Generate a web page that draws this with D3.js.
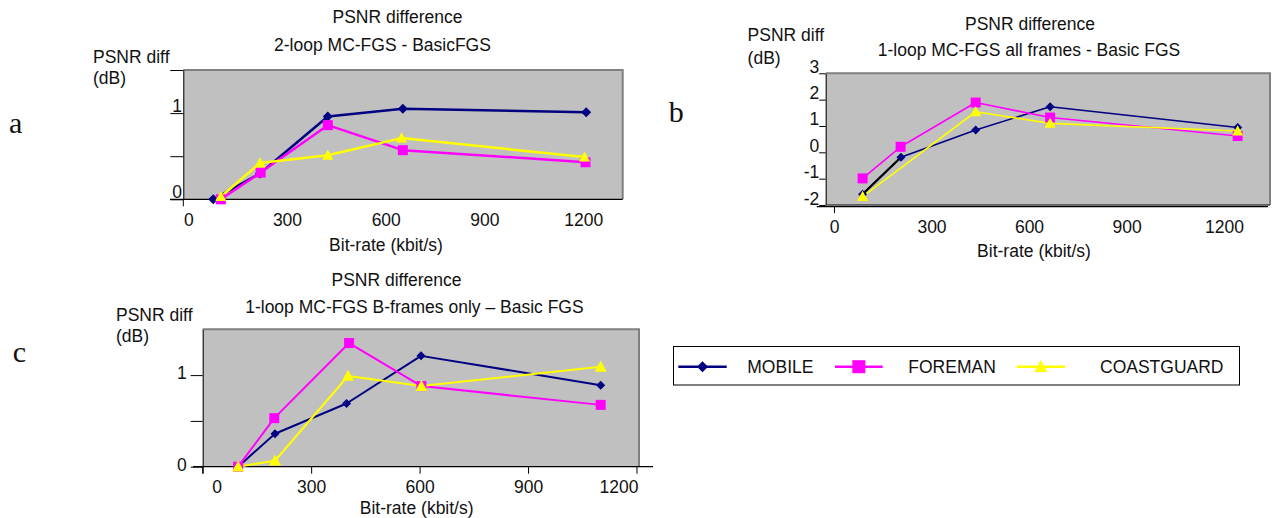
<!DOCTYPE html>
<html>
<head>
<meta charset="utf-8">
<script src="https://cdn.jsdelivr.net/npm/d3@7"></script>
<style>
  body { margin: 0; background: #fff; }
  svg { display: block; font-family: "Liberation Sans", Arial, sans-serif; }
  .txt { font-size: 17.5px; fill: #111; }
  .tick text { font-size: 17.5px; fill: #111; font-family: "Liberation Sans", Arial, sans-serif; }
  .letter { font-family: "Liberation Serif", "Times New Roman", serif; font-size: 30px; fill: #111; }
</style>
</head>
<body>
<svg id="chart" width="1277" height="518"></svg>
<script>
// ---- data ----
const seriesNames = ["MOBILE", "FOREMAN", "COASTGUARD"];
const xTickValues = [0, 300, 600, 900, 1200];

// panel a : 2-loop MC-FGS - BasicFGS
const aMobileRate = [76, 218, 424, 652, 1209];
const aMobileDiff = [0, 0.30, 0.96, 1.05, 1.01];
const aForemanRate = [99, 220, 424, 652, 1207];
const aForemanDiff = [0, 0.31, 0.86, 0.57, 0.43];
const aCoastRate = [99, 218, 424, 648, 1204];
const aCoastDiff = [0.03, 0.42, 0.51, 0.71, 0.49];
const aYTicks = [0, 0.5, 1, 1.5];
const aYLabels = ["0", "", "1", ""];

// panel b : 1-loop MC-FGS all frames - Basic FGS
const bMobileRate = [88, 206, 436, 665, 1242];
const bMobileDiff = [-1.59, -0.19, 0.85, 1.73, 0.94];
const bForemanRate = [88, 205, 436, 665, 1242];
const bForemanDiff = [-0.99, 0.21, 1.89, 1.32, 0.62];
const bCoastRate = [88, 436, 665, 1242];
const bCoastDiff = [-1.68, 1.54, 1.10, 0.81];
const bYTicks = [-2, -1, 0, 1, 2, 3];
const bYLabels = ["-2", "-1", "0", "1", "2", "3"];

// panel c : 1-loop MC-FGS B-frames only – Basic FGS
const cMobileRate = [98, 200, 398, 604, 1101];
const cMobileDiff = [0, 0.36, 0.69, 1.21, 0.89];
const cForemanRate = [98, 198, 405, 605, 1101];
const cForemanDiff = [0, 0.53, 1.35, 0.88, 0.675];
const cCoastRate = [98, 200, 402, 605, 1101];
const cCoastDiff = [0, 0.065, 0.99, 0.88, 1.09];
const cYTicks = [0, 0.5, 1];
const cYLabels = ["0", "", "1"];

// ---- styles ----
const seriesColor = { MOBILE: "#000080", FOREMAN: "#ff00ff", COASTGUARD: "#ffff00" };
const seriesShape = { MOBILE: "diamond", FOREMAN: "square", COASTGUARD: "triangle" };

function zip(rates, diffs) {
  return rates.map((r, i) => ({ rate: r, diff: diffs[i] }));
}

function markerPath(shape, s) {
  const h = s / 2;
  if (shape === "diamond") return `M0,${-h}L${h},0L0,${h}L${-h},0Z`;
  if (shape === "square") return `M${-h},${-h}H${h}V${h}H${-h}Z`;
  return `M0,${-h * 1.05}L${h},${h * 0.8}L${-h},${h * 0.8}Z`;
}

const svg = d3.select("#chart");

const panels = [
  {
    id: "a",
    left: 183.3, right: 622.7, top: 70, bottom: 199.3,
    xDomain: [-15, 1320], yDomain: [0, 1.5],
    yTicks: aYTicks, yLabels: aYLabels,
    series: [zip(aMobileRate, aMobileDiff), zip(aForemanRate, aForemanDiff), zip(aCoastRate, aCoastDiff)],
    lineWidth: 2.5, markSize: { diamond: 10, square: 10, triangle: 11 },
    title: ["PSNR difference", "2-loop MC-FGS - BasicFGS"],
    titlePos: [[397.5, 23], [382.5, 50.5]],
    yTitle: [93, 63, 84],
    xTitle: [386, 251],
    letter: ["a", 9, 133],
    labelShift: [0, 0, 0, 0, 0]
  },
  {
    id: "b",
    left: 825.7, right: 1270, top: 73.3, bottom: 205,
    xDomain: [-25.5, 1341.5], yDomain: [-2, 3],
    yTicks: bYTicks, yLabels: bYLabels,
    series: [zip(bMobileRate, bMobileDiff), zip(bForemanRate, bForemanDiff), zip(bCoastRate, bCoastDiff)],
    lineWidth: 1.6, markSize: { diamond: 9, square: 10, triangle: 11 },
    firstSegBlack: true,
    title: ["PSNR difference", "1-loop MC-FGS all frames - Basic FGS"],
    titlePos: [[1030, 29.5], [1029, 56]],
    yTitle: [747.6, 41.3, 64],
    xTitle: [1034, 257],
    letter: ["b", 668.7, 122],
    labelShift: [0, 0, 0, 0, 0]
  },
  {
    id: "c",
    left: 202.7, right: 639, top: 329.3, bottom: 466.7,
    xDomain: [0, 1207], yDomain: [0, 1.5],
    yTicks: cYTicks, yLabels: cYLabels,
    series: [zip(cMobileRate, cMobileDiff), zip(cForemanRate, cForemanDiff), zip(cCoastRate, cCoastDiff)],
    lineWidth: 2, markSize: { diamond: 9, square: 10, triangle: 12 },
    title: ["PSNR difference", "1-loop MC-FGS B-frames only \u2013 Basic FGS"],
    titlePos: [[396.5, 286.3], [414.4, 313]],
    yTitle: [116, 320.7, 342],
    xTitle: [416.7, 514],
    letter: ["c", 12.7, 361.7],
    // the original's tick labels sit a little inside the end ticks
    labelShift: [14, 0, 0, 0, -18]
  }
];

panels.forEach(drawPanel);
drawLegend();

function drawPanel(p) {
  const g = svg.append("g").attr("class", "panel-" + p.id);

  const x = d3.scaleLinear().domain(p.xDomain).range([p.left, p.right]);
  const y = d3.scaleLinear().domain(p.yDomain).range([p.bottom, p.top]);

  // plot area
  g.append("rect")
    .attr("x", p.left).attr("y", p.top)
    .attr("width", p.right - p.left).attr("height", p.bottom - p.top)
    .attr("fill", "#c0c0c0");
  g.append("path")
    .attr("d", `M${p.left},${p.top}H${p.right}V${p.bottom}`)
    .attr("fill", "none").attr("stroke", "#808080").attr("stroke-width", 2);

  // y axis
  const yAxis = g.append("g").attr("transform", `translate(${p.left},0)`);
  if (p.id === "a") {
    yAxis.call(d3.axisLeft(y).tickValues(p.yTicks).tickSize(13).tickSizeOuter(0)
      .tickFormat((d, i) => p.yLabels[i]));
    yAxis.selectAll(".tick text").attr("x", -11).attr("dy", -2).attr("text-anchor", "start");
  } else if (p.id === "b") {
    yAxis.call(d3.axisLeft(y).tickValues(p.yTicks).tickSize(6.5).tickPadding(0).tickSizeOuter(0)
      .tickFormat((d, i) => p.yLabels[i]));
    yAxis.selectAll(".tick text").attr("dy", -1);
  } else {
    yAxis.call(d3.axisLeft(y).tickValues(p.yTicks).tickSize(12).tickPadding(4).tickSizeOuter(0)
      .tickFormat((d, i) => p.yLabels[i]));
    yAxis.selectAll(".tick text").attr("dy", "0.2em");
  }
  yAxis.select(".domain").attr("stroke", "#000");

  // x axis
  const xBase = p.id === "b" ? p.bottom + 1.7 : p.bottom;
  const xAxis = g.append("g").attr("transform", `translate(0,${xBase})`);
  xAxis.call(d3.axisBottom(x).tickValues(xTickValues).tickSize(p.id === "c" ? 7 : 0)
    .tickSizeOuter(0).tickFormat(d3.format("d")));
  xAxis.select(".domain").remove();
  xAxis.selectAll(".tick text")
    .attr("y", p.id === "a" ? 26.7 : 26.3).attr("dy", 0)
    .attr("x", (d, i) => p.labelShift[i]);
  if (p.id === "b") {
    xAxis.select(".tick line").attr("y2", 6.5);
    g.append("line").attr("x1", p.left).attr("x2", p.right).attr("y1", p.bottom).attr("y2", p.bottom)
      .attr("stroke", "#404040").attr("stroke-width", 1.5);
  }
  // axis base line, a bit longer than the plot like the original
  const ext = { a: [170, p.right], b: [816.7, 1268], c: [193, 653] }[p.id];
  g.append("line").attr("x1", ext[0]).attr("x2", ext[1]).attr("y1", xBase).attr("y2", xBase)
    .attr("stroke", "#000").attr("stroke-width", 1.3);
  if (p.id !== "b") {
    g.append("line").attr("x1", p.left).attr("x2", p.left).attr("y1", p.bottom).attr("y2", p.bottom + 7)
      .attr("stroke", "#000");
  }

  // series lines, then markers
  const line = d3.line().x(d => x(d.rate)).y(d => y(d.diff));
  p.series.forEach((s, i) => {
    g.append("path").datum(s)
      .attr("d", line)
      .attr("fill", "none")
      .attr("stroke", seriesColor[seriesNames[i]])
      .attr("stroke-width", p.lineWidth)
      .attr("stroke-linejoin", "round");
  });
  if (p.firstSegBlack) {
    g.append("path").datum(p.series[0].slice(0, 2))
      .attr("d", line).attr("fill", "none")
      .attr("stroke", "#000").attr("stroke-width", p.lineWidth + 0.6);
  }
  p.series.forEach((s, i) => {
    const name = seriesNames[i];
    g.selectAll(null).data(s).enter().append("path")
      .attr("transform", d => `translate(${x(d.rate)},${y(d.diff)})`)
      .attr("d", markerPath(seriesShape[name], p.markSize[seriesShape[name]]))
      .attr("fill", seriesColor[name]);
  });

  // texts
  p.title.forEach((t, i) => {
    g.append("text").attr("class", "txt").attr("text-anchor", "middle")
      .attr("x", p.titlePos[i][0]).attr("y", p.titlePos[i][1]).text(t);
  });
  g.append("text").attr("class", "txt").attr("x", p.yTitle[0]).attr("y", p.yTitle[1]).text("PSNR diff");
  g.append("text").attr("class", "txt").attr("x", p.yTitle[0]).attr("y", p.yTitle[2]).text("(dB)");
  g.append("text").attr("class", "txt").attr("text-anchor", "middle")
    .attr("x", p.xTitle[0]).attr("y", p.xTitle[1]).text("Bit-rate (kbit/s)");
  g.append("text").attr("class", "letter").attr("x", p.letter[1]).attr("y", p.letter[2]).text(p.letter[0]);
}

function drawLegend() {
  const g = svg.append("g").attr("class", "legend");
  g.append("rect")
    .attr("x", 673.5).attr("y", 346.5).attr("width", 566).attr("height", 38.5)
    .attr("fill", "#fff").attr("stroke", "#000").attr("stroke-width", 1);
  const items = [
    { lineX: [678.3, 726.7], textX: 747.3 },
    { lineX: [835, 882.7], textX: 908.3 },
    { lineX: [1016.7, 1065], textX: 1100 }
  ];
  const cy = 366.7;
  seriesNames.forEach((name, i) => {
    const it = items[i];
    g.append("line").attr("x1", it.lineX[0]).attr("x2", it.lineX[1]).attr("y1", cy).attr("y2", cy)
      .attr("stroke", seriesColor[name]).attr("stroke-width", 2.5);
    const size = { diamond: 11, square: 13, triangle: 13 }[seriesShape[name]];
    g.append("path")
      .attr("transform", `translate(${(it.lineX[0] + it.lineX[1]) / 2},${cy})`)
      .attr("d", markerPath(seriesShape[name], size))
      .attr("fill", seriesColor[name]);
    g.append("text").attr("class", "txt").attr("x", it.textX).attr("y", 373.3).text(name);
  });
}
</script>
</body>
</html>
